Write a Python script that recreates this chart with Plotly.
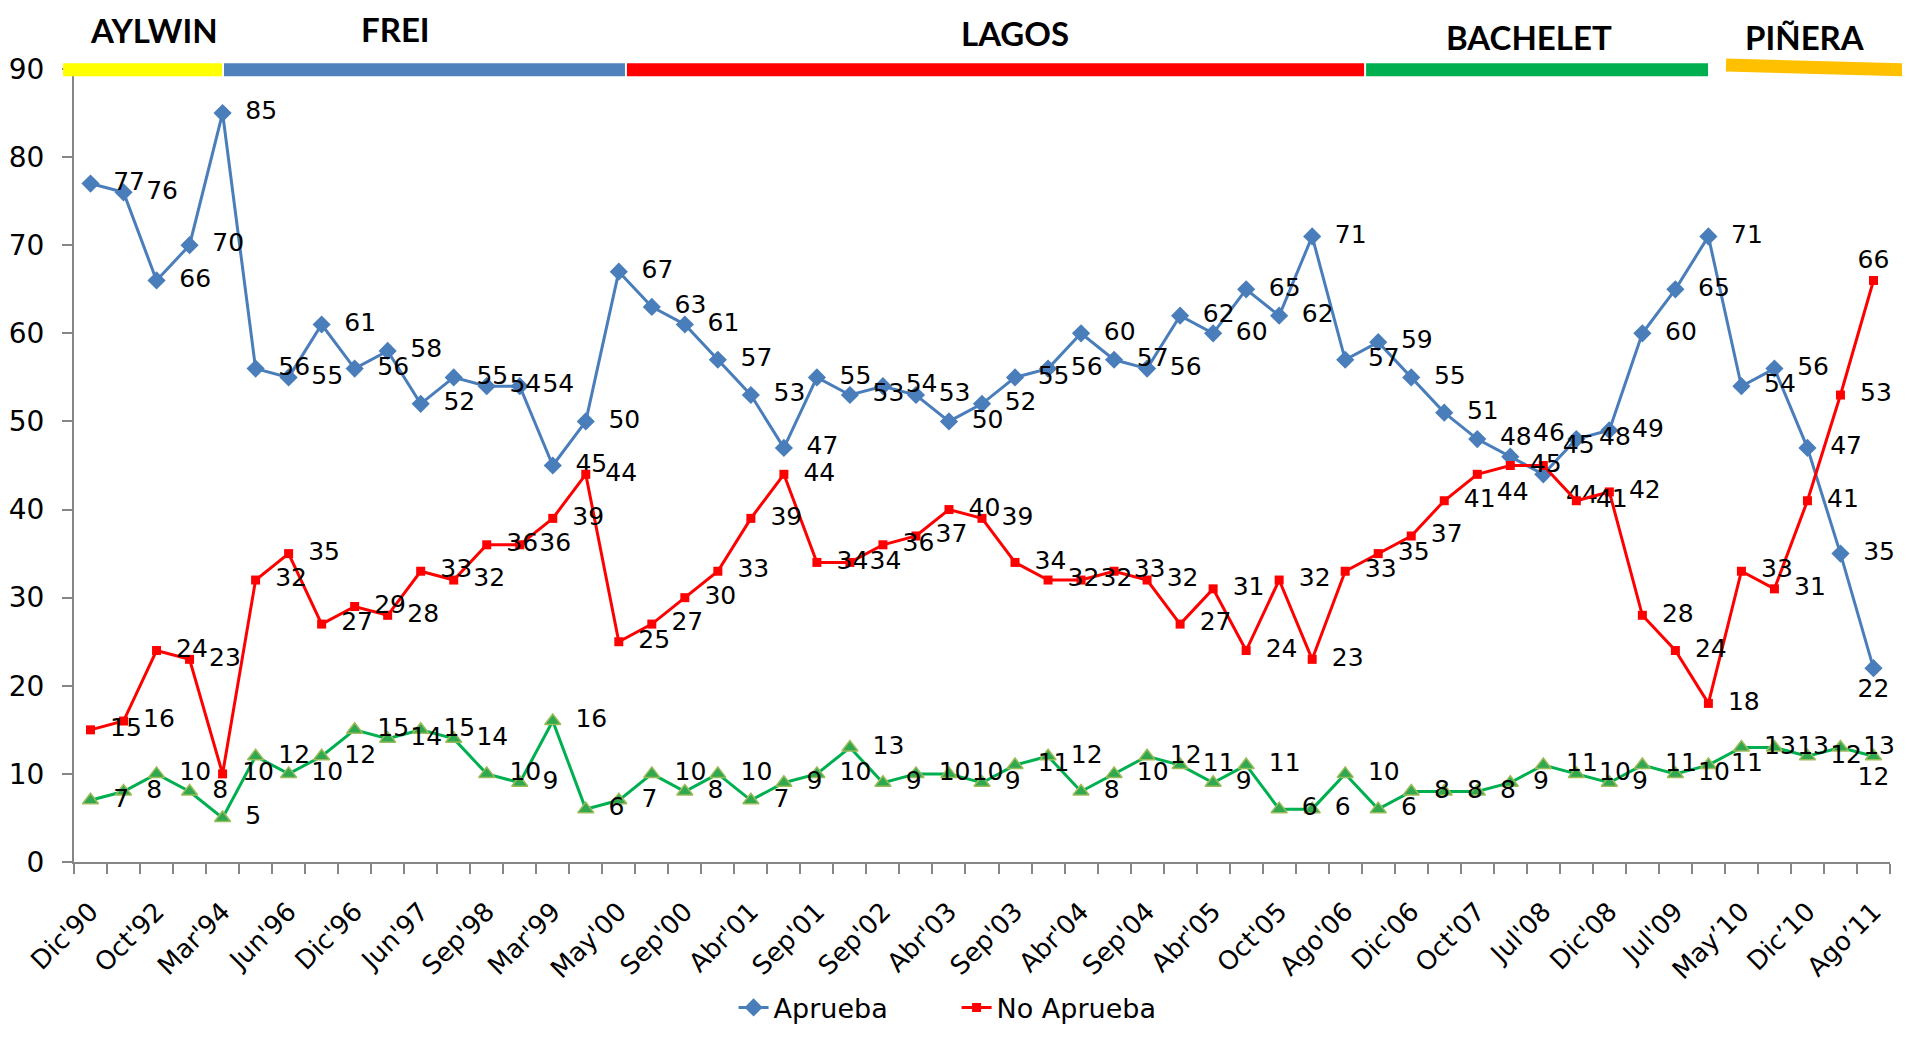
import plotly.graph_objects as go

tick_labels = ["Dic'90", "Oct'92", "Mar'94", "Jun'96", "Dic'96", "Jun'97", "Sep'98", "Mar'99",
               "May'00", "Sep'00", "Abr'01", "Sep'01", "Sep'02", "Abr'03", "Sep'03", "Abr'04",
               "Sep'04", "Abr'05", "Oct'05", "Ago'06", "Dic'06", "Oct'07", "Jul'08", "Dic'08",
               "Jul'09", "May’10", "Dic’10", "Ago’11"]

aprueba = [77, 76, 66, 70, 85, 56, 55, 61, 56, 58, 52, 55, 54, 54, 45, 50,
           67, 63, 61, 57, 53, 47, 55, 53, 54, 53, 50, 52, 55, 56, 60, 57,
           56, 62, 60, 65, 62, 71, 57, 59, 55, 51, 48, 46, 44, 48, 49, 60,
           65, 71, 54, 56, 47, 35, 22]

no_aprueba = [15, 16, 24, 23, 10, 32, 35, 27, 29, 28, 33, 32, 36, 36, 39, 44,
              25, 27, 30, 33, 39, 44, 34, 34, 36, 37, 40, 39, 34, 32, 32, 33,
              32, 27, 31, 24, 32, 23, 33, 35, 37, 41, 44, 45, 45, 41, 42, 28,
              24, 18, 33, 31, 41, 53, 66]

no_sabe = [7, 8, 10, 8, 5, 12, 10, 12, 15, 14, 15, 14, 10, 9, 16, 6,
           7, 10, 8, 10, 7, 9, 10, 13, 9, 10, 10, 9, 11, 12, 8, 10,
           12, 11, 9, 11, 6, 6, 10, 6, 8, 8, 8, 9, 11, 10, 9, 11,
           10, 11, 13, 13, 12, 13, 12]

presidents = ["AYLWIN", "FREI", "LAGOS", "BACHELET", "PIÑERA"]

n = len(aprueba)
x = list(range(n))
tickvals = list(range(0, n, 2))

NUM_FONT = "DejaVu Sans, Liberation Sans, Arial, sans-serif"
LABEL_FONT = dict(family=NUM_FONT, size=25, color="black")

# label placement overrides (style only)
pos_aprueba = {43: "top right", 44: "bottom right", n - 1: "bottom center"}
pos_no_aprueba = {42: "bottom right", 44: "top right", n - 1: "top center"}
pos_no_sabe = {n - 1: "bottom center"}


def labels(values, overrides):
    pos, txt = [], []
    for i, v in enumerate(values):
        p = overrides.get(i, "middle right")
        pos.append(p)
        txt.append(("\u00a0\u2009" + str(v)) if p.endswith("right") else str(v))
    return txt, pos


fig = go.Figure()

t, p = labels(no_sabe, pos_no_sabe)
fig.add_trace(go.Scatter(
    x=x, y=no_sabe, mode="lines+markers+text", name="No sabe", showlegend=False,
    line=dict(color="#00B050", width=3),
    marker=dict(symbol="triangle-up", size=14, color="#2FA84F", line=dict(color="#9BBB59", width=1.5)),
    text=t, textposition=p, textfont=LABEL_FONT,
    cliponaxis=False, hoverinfo="skip"))

t, p = labels(aprueba, pos_aprueba)
fig.add_trace(go.Scatter(
    x=x, y=aprueba, mode="lines+markers+text", name="Aprueba",
    line=dict(color="#4A7EBB", width=3),
    marker=dict(symbol="diamond", size=14, color="#4A7EBB"),
    text=t, textposition=p, textfont=LABEL_FONT,
    cliponaxis=False, hoverinfo="skip"))

t, p = labels(no_aprueba, pos_no_aprueba)
fig.add_trace(go.Scatter(
    x=x, y=no_aprueba, mode="lines+markers+text", name="No Aprueba",
    line=dict(color="#FF0000", width=3),
    marker=dict(symbol="square", size=9, color="#FF0000"),
    text=t, textposition=p, textfont=LABEL_FONT,
    cliponaxis=False, hoverinfo="skip"))

# President period bars (decoration above the plot)
bars = [
    (-0.006, 0.999, 0.0815, 0.999, "#FFFF00"),
    (0.0826, 0.999, 0.3034, 0.999, "#4F81BD"),
    (0.3045, 0.999, 0.7104, 0.999, "#FF0000"),
    (0.7115, 0.999, 0.8998, 0.999, "#00B050"),
    (0.9097, 1.005, 1.012, 0.9987, "#FFC000"),
]
shapes = []
for x0, y0, x1, y1, c in bars:
    shapes.append(dict(type="line", xref="paper", yref="paper", x0=x0, y0=y0, x1=x1, y1=y1,
                       line=dict(color=c, width=13), layer="above"))

pres_pos = [(0.0441, 1.049), (0.1773, 1.0504), (0.518, 1.0454), (0.801, 1.040), (0.953, 1.040)]
annotations = []
for name, (ax, ay) in zip(presidents, pres_pos):
    annotations.append(dict(text=name, xref="paper", yref="paper", x=ax, y=ay,
                            xanchor="center", yanchor="middle", showarrow=False,
                            font=dict(family="Lato, Carlito, sans-serif", size=33, color="black",
                                      weight="bold")))

fig.update_layout(
    width=1894, height=1022,
    margin=dict(l=66, r=12, t=61, b=168, autoexpand=False),
    paper_bgcolor="white", plot_bgcolor="white",
    shapes=shapes, annotations=annotations,
    showlegend=True,
    legend=dict(orientation="h", x=0.486, xanchor="center", y=-0.184, yanchor="middle",
                font=dict(family=NUM_FONT, size=27, color="black"),
                entrywidth=178, entrywidthmode="pixels", traceorder="normal"),
    xaxis=dict(range=[-0.5, n - 0.5], tickmode="array", tickvals=tickvals, ticktext=tick_labels,
               tickangle=-45, ticks="", showgrid=False, zeroline=False,
               showline=True, linecolor="#868686", linewidth=2, ticklabelstandoff=22,
               tickfont=dict(family=NUM_FONT, size=26, color="black"),
               minor=dict(tickmode="array", tickvals=[i - 0.5 for i in range(n + 1)],
                          ticks="outside", ticklen=10, tickwidth=2, tickcolor="#868686",
                          showgrid=False)),
    yaxis=dict(range=[0, 90], tickmode="linear", tick0=0, dtick=10, showgrid=False, zeroline=False,
               showline=True, linecolor="#868686", linewidth=2, ticklabelstandoff=12,
               ticks="outside", ticklen=10, tickwidth=2, tickcolor="#868686",
               tickfont=dict(family=NUM_FONT, size=28, color="black")),
)

fig.write_html("out.html")
